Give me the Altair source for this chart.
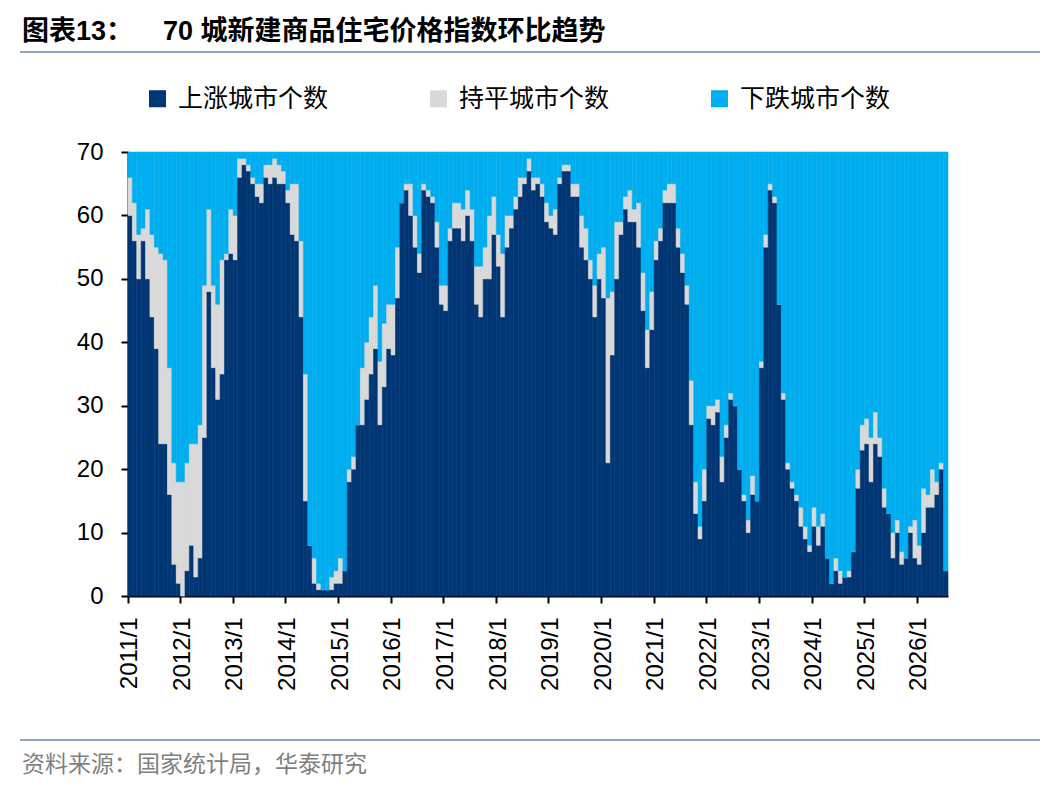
import altair as alt
import pandas as pd

years = list(range(2011, 2027))

# 上涨城市个数 (monthly, 2011/1 - 2026/7)
up = [
    60, 56, 50, 56, 50, 44, 39, 24, 24, 16, 5, 2,
    0, 4, 8, 3, 6, 25, 48, 36, 31, 35, 53, 54,
    53, 66, 68, 67, 65, 63, 62, 66, 65, 66, 65, 65,
    62, 57, 56, 44, 15, 8, 2, 1, 1, 1, 1, 2,
    2, 4, 18, 20, 27, 27, 31, 35, 39, 27, 33, 39,
    38, 47, 62, 64, 60, 55, 51, 64, 63, 62, 55, 46,
    45, 56, 58, 58, 56, 60, 56, 46, 44, 50, 50, 57,
    52, 44, 55, 58, 61, 63, 65, 67, 64, 65, 63, 59,
    58, 57, 65, 67, 67, 63, 63, 55, 53, 50, 44, 50,
    47, 21, 38, 50, 57, 61, 59, 59, 55, 45, 36, 42,
    53, 56, 62, 62, 62, 55, 51, 46, 27, 13, 9, 15,
    28, 27, 29, 18, 25, 31, 30, 20, 15, 10, 16, 15,
    36, 55, 64, 62, 46, 31, 20, 17, 15, 11, 9, 7,
    11, 8, 11, 6, 2, 4, 2, 3, 3, 7, 17, 23,
    24, 18, 24, 22, 14, 13, 6, 10, 5, 6, 10, 6,
    5, 10, 14, 14, 16, 20, 4,
]

# 持平城市个数
flat = [
    6, 6, 7, 2, 11, 13, 16, 30, 29, 20, 16, 16,
    18, 17, 16, 21, 21, 24, 13, 13, 15, 18, 1, 7,
    7, 3, 1, 1, 1, 2, 3, 2, 3, 3, 3, 2,
    2, 8, 9, 12, 20, 0, 4, 1, 0, 0, 2, 2,
    4, 0, 2, 2, 0, 9, 9, 9, 10, 10, 10, 7,
    8, 8, 0, 1, 5, 5, 3, 1, 1, 1, 4, 3,
    4, 2, 4, 4, 5, 4, 5, 6, 8, 5, 10, 6,
    5, 10, 5, 2, 2, 3, 1, 2, 2, 1, 2, 3,
    2, 4, 1, 1, 1, 2, 2, 5, 5, 3, 5, 4,
    8, 26, 10, 9, 2, 2, 5, 2, 7, 6, 6, 6,
    3, 2, 2, 3, 3, 3, 3, 3, 7, 5, 2, 5,
    2, 3, 2, 4, 2, 1, 0, 0, 1, 2, 3, 0,
    1, 2, 1, 1, 0, 1, 1, 1, 1, 3, 2, 1,
    3, 3, 2, 0, 0, 2, 2, 0, 1, 0, 3, 4,
    4, 7, 5, 3, 3, 0, 4, 2, 2, 0, 1, 6,
    3, 7, 2, 6, 2, 1, 0,
]

# 下跌城市个数
down = [
    4, 8, 13, 12, 9, 13, 15, 16, 17, 34, 49, 52,
    52, 49, 46, 46, 43, 21, 9, 21, 24, 17, 16, 9,
    10, 1, 1, 2, 4, 5, 5, 2, 2, 1, 2, 3,
    6, 5, 5, 14, 35, 62, 64, 68, 69, 69, 67, 66,
    64, 66, 50, 48, 43, 34, 30, 26, 21, 33, 27, 24,
    24, 15, 8, 5, 5, 10, 16, 5, 6, 7, 11, 21,
    21, 12, 8, 8, 9, 6, 9, 18, 18, 15, 10, 7,
    13, 16, 10, 10, 7, 4, 4, 1, 4, 4, 5, 8,
    10, 9, 4, 2, 2, 5, 5, 10, 12, 17, 21, 16,
    15, 23, 22, 11, 11, 7, 6, 9, 8, 19, 28, 22,
    14, 12, 6, 5, 5, 12, 16, 21, 36, 52, 59, 50,
    40, 40, 39, 48, 43, 38, 40, 50, 54, 58, 51, 55,
    33, 13, 5, 7, 24, 38, 49, 52, 54, 56, 59, 62,
    56, 59, 57, 64, 68, 64, 66, 67, 66, 63, 50, 43,
    42, 45, 41, 45, 53, 57, 60, 58, 63, 64, 59, 58,
    62, 53, 54, 50, 52, 49, 66,
]

series_names = ["上涨城市个数", "持平城市个数", "下跌城市个数"]
colors = ["#003673", "#D9D9D9", "#00AEEF"]
y_ticks = [0, 10, 20, 30, 40, 50, 60, 70]

title_label = "图表13："
title_text = "70 城新建商品住宅价格指数环比趋势"
source_text = "资料来源：国家统计局，华泰研究"

n = len(up)
months = [f"{2011 + i // 12}/{i % 12 + 1}" for i in range(n)]
tick_labels = [f"{y}/1" for y in years]

rows = []
for i, m in enumerate(months):
    for k, (name, vals) in enumerate(zip(series_names, [up, flat, down])):
        rows.append({"month": m, "series": name, "order": k, "value": vals[i]})
df = pd.DataFrame(rows)

FONT = "Liberation Sans, Noto Sans CJK SC"
color_scale = alt.Scale(domain=series_names, range=colors)

bars = alt.Chart(df).mark_bar(strokeWidth=0.6).encode(
    x=alt.X(
        "month:N",
        sort=months,
        scale=alt.Scale(paddingInner=0, paddingOuter=0),
        axis=alt.Axis(
            values=tick_labels,
            bandPosition=0,
            labelAngle=270,
            labelFontSize=24,
            labelFont=FONT,
            labelColor="black",
            labelPadding=14,
            tickColor="black",
            tickSize=7,
            tickWidth=2,
            domainColor="black",
            domainWidth=2,
            grid=False,
            title=None,
        ),
    ),
    y=alt.Y(
        "value:Q",
        stack="zero",
        scale=alt.Scale(domain=[0, 70], nice=False),
        axis=alt.Axis(
            values=y_ticks,
            title=None,
            grid=False,
            labelFontSize=24,
            labelFont=FONT,
            labelColor="black",
            labelPadding=18,
            tickColor="black",
            tickSize=7,
            tickWidth=2,
            domainColor="black",
            domainWidth=2,
        ),
    ),
    color=alt.Color(
        "series:N",
        scale=color_scale,
        legend=alt.Legend(
            orient="none",
            legendX=17,
            legendY=-66,
            direction="horizontal",
            title=None,
            symbolType="square",
            symbolSize=290,
            symbolStrokeWidth=0,
            symbolOpacity=1,
            labelFontSize=25,
            labelFont=FONT,
            labelColor="black",
            labelOffset=8,
            columnPadding=97,
            padding=0,
        ),
    ),
    stroke=alt.Stroke("series:N", scale=color_scale, legend=None),
    order=alt.Order("order:Q", sort="ascending"),
)

one = pd.DataFrame({"k": [0]})
top_line = alt.Chart(one).mark_rule(color="#8FA6C3", strokeWidth=2).encode(
    x=alt.value(-108), x2=alt.value(912), y=alt.value(-100)
)
bottom_line = alt.Chart(one).mark_rule(color="#8FA6C3", strokeWidth=2).encode(
    x=alt.value(-108), x2=alt.value(912), y=alt.value(588)
)

title_label_mark = alt.Chart(pd.DataFrame({"t": [title_label]})).mark_text(
    align="left", baseline="middle", fontSize=27, font=FONT,
    fontWeight="bold", color="black",
).encode(x=alt.value(-106), y=alt.value(-120), text="t:N")

title_mark = alt.Chart(pd.DataFrame({"t": [title_text]})).mark_text(
    align="left", baseline="middle", fontSize=27, font=FONT,
    fontWeight="bold", color="black",
).encode(x=alt.value(35), y=alt.value(-120), text="t:N")

source_mark = alt.Chart(pd.DataFrame({"t": [source_text]})).mark_text(
    align="left", baseline="middle", fontSize=23, font=FONT, color="#7F7F7F",
).encode(x=alt.value(-106), y=alt.value(613), text="t:N")

chart = alt.layer(
    bars, top_line, bottom_line, title_label_mark, title_mark, source_mark
).properties(
    width=820,
    height=444,
    autosize=alt.AutoSizeParams(type="none"),
    padding={"left": 120, "top": 144, "right": 92, "bottom": 188},
).configure_view(stroke=None)

chart.save("out.html", embed_options={"renderer": "svg", "actions": False})
